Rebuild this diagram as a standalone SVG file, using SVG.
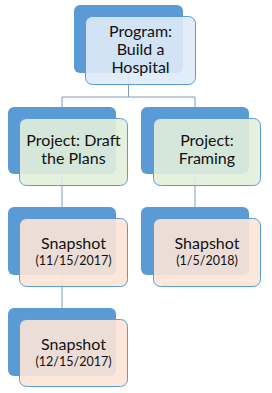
<svg xmlns="http://www.w3.org/2000/svg" width="272" height="393" viewBox="0 0 272 393">
<style>
.back{fill:#5B9BD5;}
.front{stroke:#5B9BD5;stroke-width:1;fill-opacity:0.9;}
.b{fill:#DEEBF7;}
.g{fill:#E2EFDA;}
.p{fill:#FCE4D6;}
text{font-family:Lato,"Liberation Sans",Arial,sans-serif;fill:#111;text-anchor:middle;}
.t{font-size:16px;}
.s{font-size:12.5px;}
.conn{stroke:#7F9DC4;stroke-width:1;fill:none;}
</style>
<rect width="272" height="393" fill="#fff"/>
<g id="connectors">
<path class="conn" d="M128.5,73 V97 M62,97 H195 M62,97 V107 M195,97 V107"/>
<path class="conn" d="M62,174 V207 M195,174 V207"/>
<path class="conn" d="M62,275 V308"/>
</g>
<g id="program">
<rect class="back" x="74" y="5" width="109" height="68" rx="6"/>
<rect class="front b" x="85.5" y="16.5" width="110" height="68" rx="7"/>
<text class="t" x="140.5" y="37">Program:</text>
<text class="t" x="140.5" y="55">Build a</text>
<text class="t" x="140.5" y="73">Hospital</text>
</g>
<g id="project-draft">
<rect class="back" x="8" y="107" width="108" height="67" rx="6"/>
<rect class="front g" x="19.5" y="118.5" width="108" height="67" rx="7"/>
<text class="t" x="73.5" y="146">Project: Draft</text>
<text class="t" x="73.5" y="164">the Plans</text>
</g>
<g id="project-framing">
<rect class="back" x="141" y="107" width="108" height="67" rx="6"/>
<rect class="front g" x="153.5" y="118.5" width="107" height="67" rx="7"/>
<text class="t" x="207" y="146">Project:</text>
<text class="t" x="207" y="164">Framing</text>
</g>
<g id="snapshot-1">
<rect class="back" x="8" y="207" width="108" height="68" rx="6"/>
<rect class="front p" x="19.5" y="218.5" width="108" height="68" rx="7"/>
<text class="t" x="73.5" y="249">Snapshot</text>
<text class="s" x="73.5" y="265">(11/15/2017)</text>
</g>
<g id="shapshot">
<rect class="back" x="141" y="207" width="108" height="68" rx="6"/>
<rect class="front p" x="153.5" y="218.5" width="107" height="68" rx="7"/>
<text class="t" x="207" y="249">Shapshot</text>
<text class="s" x="207" y="265">(1/5/2018)</text>
</g>
<g id="snapshot-2">
<rect class="back" x="8" y="308" width="108" height="68" rx="6"/>
<rect class="front p" x="19.5" y="319.5" width="108" height="67" rx="7"/>
<text class="t" x="73.5" y="350">Snapshot</text>
<text class="s" x="73.5" y="366">(12/15/2017)</text>
</g>
</svg>
